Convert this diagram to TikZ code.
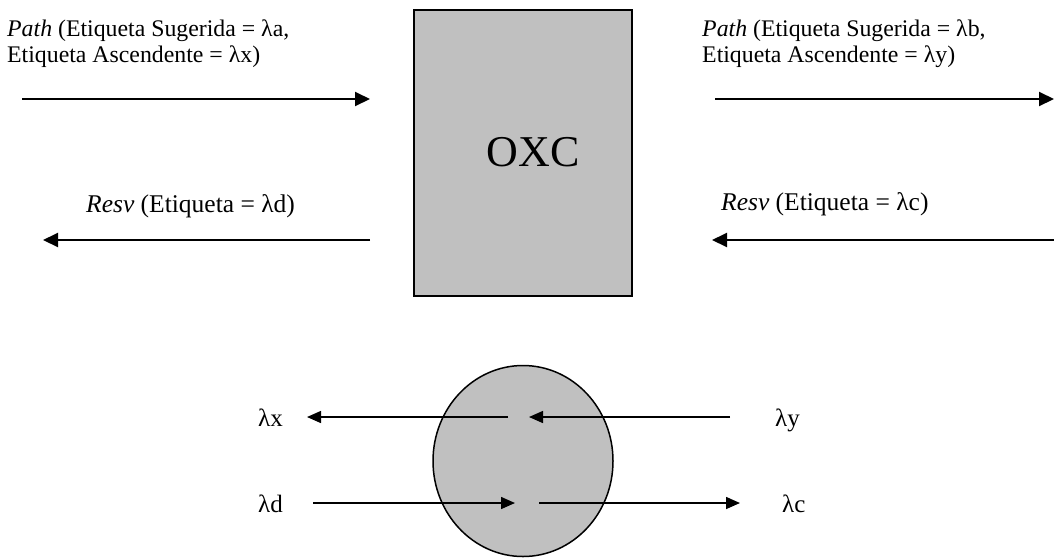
\documentclass[tikz,border=0pt]{standalone}
\usepackage{fontspec}
\setmainfont{Liberation Serif}
\usetikzlibrary{arrows.meta}
\definecolor{boxgray}{HTML}{C0C0C0}
\tikzset{
  bigarrow/.style={line width=2pt,-{Triangle[length=15pt,width=14pt]}},
  smallarrow/.style={line width=1.5pt,-{Triangle[length=14pt,width=12pt]}},
  lbl/.style={anchor=base west,inner sep=0pt,align=left},
  pathlbl/.style={lbl,font=\fontsize{23.8}{26.5}\selectfont},
  resvlbl/.style={lbl,font=\fontsize{25.5}{28}\selectfont},
  lamlbl/.style={lbl,font=\fontsize{25}{28}\selectfont},
}
\begin{document}
\begin{tikzpicture}[x=1pt,y=-1pt]
\useasboundingbox (0,0) rectangle (1054,558);
% OXC box
\node[draw,line width=2pt,fill=boxgray,minimum width=218pt,minimum height=286pt,inner sep=0pt] (box) at (523,153) {};
\node[font=\fontsize{44}{50}\selectfont,anchor=base,inner sep=0pt] (oxc) at (533,166) {OXC};
% top left
\node[pathlbl] (tl) at (7,62.5) {\textit{Path} (Etiqueta Sugerida = λa,\\Etiqueta Ascendente = λx)};
\coordinate (tlA) at (22,99);
\coordinate (tlB) at (370,99);
\draw[bigarrow] (tlA) -- (tlB);
% top right
\node[pathlbl] (tr) at (702,62.5) {\textit{Path} (Etiqueta Sugerida = λb,\\Etiqueta Ascendente = λy)};
\coordinate (trA) at (715,99);
\coordinate (trB) at (1054,99);
\draw[bigarrow] (trA) -- (trB);
% bottom left
\node[resvlbl] (bl) at (86,212) {\textit{Resv} (Etiqueta = λd)};
\coordinate (blA) at (370,240);
\coordinate (blB) at (43,240);
\draw[bigarrow] (blA) -- (blB);
% bottom right
\node[resvlbl] (br) at (721,210) {\textit{Resv} (Etiqueta = λc)};
\coordinate (brA) at (1054,240);
\coordinate (brB) at (712,240);
\draw[bigarrow] (brA) -- (brB);
% circle
\draw[line width=1.5pt,fill=boxgray] (523,461) ellipse [x radius=90pt,y radius=95.5pt];
% labels
\node[lamlbl] (lx) at (258,426) {λx};
\node[lamlbl] (ly) at (775,426) {λy};
\node[lamlbl] (ld) at (258,512) {λd};
\node[lamlbl] (lc) at (782,512) {λc};
\coordinate (xA) at (508,417);
\coordinate (xB) at (307,417);
\coordinate (yA) at (730,417);
\coordinate (yB) at (529,417);
\coordinate (dA) at (313,503);
\coordinate (dB) at (515,503);
\coordinate (cA) at (539,503);
\coordinate (cB) at (740,503);
\draw[smallarrow] (xA) -- (xB);
\draw[smallarrow] (yA) -- (yB);
\draw[smallarrow] (dA) -- (dB);
\draw[smallarrow] (cA) -- (cB);
\end{tikzpicture}
\end{document}
